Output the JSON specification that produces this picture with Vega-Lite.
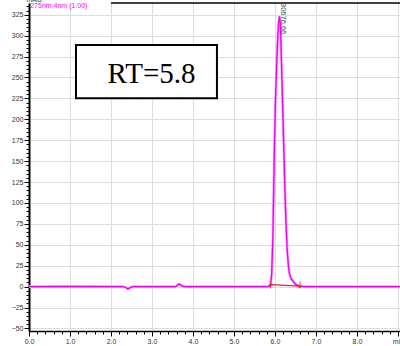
{
  "$schema": "https://vega.github.io/schema/vega-lite/v6.json",
  "autosize": "none",
  "width": 371,
  "height": 328,
  "padding": {"left": 29, "top": 3, "right": 0, "bottom": 15},
  "background": "white",
  "config": {"view": {"stroke": null}},
  "datasets": {
    "chrom": [
      {"t": 0.0, "v": 0}, {"t": 1.0, "v": 0.2}, {"t": 2.3, "v": 0}, {"t": 2.36, "v": -1}, {"t": 2.41, "v": -2.8},
      {"t": 2.46, "v": -1.4}, {"t": 2.52, "v": 0}, {"t": 3.58, "v": 0}, {"t": 3.62, "v": 1.6}, {"t": 3.66, "v": 3.2},
      {"t": 3.71, "v": 1.5}, {"t": 3.78, "v": 0}, {"t": 5.8, "v": 0}, {"t": 5.86, "v": 0.3}, {"t": 5.89, "v": 2},
      {"t": 5.92, "v": 15}, {"t": 5.95, "v": 60}, {"t": 5.98, "v": 150}, {"t": 6.01, "v": 220}, {"t": 6.04, "v": 265},
      {"t": 6.07, "v": 300}, {"t": 6.09, "v": 316}, {"t": 6.11, "v": 323}, {"t": 6.13, "v": 315}, {"t": 6.15, "v": 285},
      {"t": 6.18, "v": 230}, {"t": 6.21, "v": 175}, {"t": 6.24, "v": 120}, {"t": 6.27, "v": 75}, {"t": 6.3, "v": 42},
      {"t": 6.33, "v": 24}, {"t": 6.36, "v": 14}, {"t": 6.4, "v": 9}, {"t": 6.45, "v": 6}, {"t": 6.5, "v": 3},
      {"t": 6.55, "v": 1.5}, {"t": 6.6, "v": 0.5}, {"t": 6.7, "v": 0}, {"t": 9.05, "v": 0}
    ],
    "base": [{"t": 5.89, "v": 2.5}, {"t": 6.61, "v": 0.6}],
    "marks": [{"t": 5.89, "v": 1.5, "k": "start"}, {"t": 6.61, "v": 2.5, "k": "end"}],
    "box": [{"t": 1.146, "t2": 4.585, "v": 225.1, "v2": 288.9}],
    "rt": [{"t": 2.99, "v": 243, "label": "RT=5.8"}],
    "peak": [{"t": 6.19, "v": 339, "label": "30676.66"}],
    "chan": [{"t": 0.03, "v": 335, "label": "275nm,4nm (1.00)"}],
    "top": [{"t": 2.0, "t2": 9.05, "v": 339}]
  },
  "layer": [
    {
      "data": {"name": "chrom"},
      "mark": {"type": "line", "color": "#ff99ff", "strokeWidth": 2.6, "clip": true},
      "encoding": {
        "x": {
          "field": "t", "type": "quantitative",
          "scale": {"domain": [0, 9.05], "nice": false, "zero": false},
          "axis": {
            "title": null,
            "tickCount": 500,
            "values": [0,0.2,0.4,0.6,0.8,1,1.2,1.4,1.6,1.8,2,2.2,2.4,2.6,2.8,3,3.2,3.4,3.6,3.8,4,4.2,4.4,4.6,4.8,5,5.2,5.4,5.6,5.8,6,6.2,6.4,6.6,6.8,7,7.2,7.4,7.6,7.8,8,8.2,8.4,8.6,8.8,9],
            "labelExpr": "datum.value % 1 == 0 ? (datum.value == 9 ? 'min' : format(datum.value, '.1f')) : ''",
            "labelOverlap": false,
            "labelBound": false,
            "labelFlush": false,
            "labelFont": "Liberation Sans",
            "labelFontSize": 7,
            "labelColor": "#333",
            "labelPadding": 1,
            "tickSize": {"condition": {"test": "datum.value % 1 == 0", "value": 5}, "value": 3},
            "tickColor": "#000",
            "tickWidth": 1,
            "domainColor": "#000",
            "domainWidth": 1.5,
            "grid": true,
            "gridColor": "#dcdcdc",
            "gridWidth": 1,
            "gridOpacity": {"condition": {"test": "datum.value % 1 == 0 && datum.value > 0", "value": 1}, "value": 0}
          }
        },
        "y": {
          "field": "v", "type": "quantitative",
          "scale": {"domain": [-53, 339], "nice": false, "zero": false},
          "axis": {
            "title": "mAU",
            "titleAngle": 0,
            "titleAlign": "left",
            "titleBaseline": "bottom",
            "titleX": -3,
            "titleY": -1,
            "titleFont": "Liberation Sans",
            "titleFontSize": 7,
            "titleFontWeight": "normal",
            "titleColor": "#333",
            "tickCount": 500,
            "values": [-50,-45,-40,-35,-30,-25,-20,-15,-10,-5,0,5,10,15,20,25,30,35,40,45,50,55,60,65,70,75,80,85,90,95,100,105,110,115,120,125,130,135,140,145,150,155,160,165,170,175,180,185,190,195,200,205,210,215,220,225,230,235,240,245,250,255,260,265,270,275,280,285,290,295,300,305,310,315,320,325,330,335],
            "labelExpr": "datum.value % 25 == 0 ? format(datum.value, 'd') : ''",
            "labelOverlap": false,
            "labelBound": false,
            "labelFlush": false,
            "labelFont": "Liberation Sans",
            "labelFontSize": 7,
            "labelColor": "#333",
            "labelPadding": 1,
            "tickSize": {"condition": {"test": "datum.value % 25 == 0", "value": 5}, "value": 3},
            "tickColor": "#000",
            "tickWidth": 1,
            "domainColor": "#000",
            "domainWidth": 2,
            "grid": true,
            "gridColor": "#dcdcdc",
            "gridWidth": 1,
            "gridOpacity": {"condition": {"test": "datum.value % 25 == 0", "value": 1}, "value": 0}
          }
        }
      }
    },
    {
      "data": {"name": "chrom"},
      "mark": {"type": "line", "color": "#ee00ee", "strokeWidth": 1.3, "clip": true},
      "encoding": {"x": {"field": "t", "type": "quantitative"}, "y": {"field": "v", "type": "quantitative"}}
    },
    {
      "data": {"name": "base"},
      "mark": {"type": "line", "color": "#e8202a", "strokeWidth": 1.3},
      "encoding": {"x": {"field": "t", "type": "quantitative"}, "y": {"field": "v", "type": "quantitative"}}
    },
    {
      "data": {"name": "marks"},
      "mark": {"type": "point", "color": "#e8202a", "filled": false, "strokeWidth": 1.3, "size": 40},
      "encoding": {
        "x": {"field": "t", "type": "quantitative"},
        "y": {"field": "v", "type": "quantitative"},
        "shape": {
          "field": "k", "type": "nominal", "legend": null,
          "scale": {"domain": ["start", "end"], "range": ["M-0.7,0H0.7M0,-1V1", "M0,-1V1M-0.6,0.3L0,1L0.6,0.3"]}
        }
      }
    },
    {
      "data": {"name": "top"},
      "mark": {"type": "rule", "color": "#000", "strokeWidth": 1.5},
      "encoding": {"x": {"field": "t", "type": "quantitative"}, "x2": {"field": "t2"}, "y": {"field": "v", "type": "quantitative"}}
    },
    {
      "data": {"name": "box"},
      "mark": {"type": "rect", "fill": "white", "stroke": "#000", "strokeWidth": 2},
      "encoding": {
        "x": {"field": "t", "type": "quantitative"}, "x2": {"field": "t2"},
        "y": {"field": "v", "type": "quantitative"}, "y2": {"field": "v2"}
      }
    },
    {
      "data": {"name": "rt"},
      "mark": {"type": "text", "font": "Liberation Serif", "fontSize": 29, "align": "center", "baseline": "alphabetic", "color": "#000"},
      "encoding": {"x": {"field": "t", "type": "quantitative"}, "y": {"field": "v", "type": "quantitative"}, "text": {"field": "label"}}
    },
    {
      "data": {"name": "peak"},
      "mark": {"type": "text", "font": "Liberation Sans", "fontSize": 7.5, "angle": 90, "align": "left", "baseline": "middle", "color": "#444"},
      "encoding": {"x": {"field": "t", "type": "quantitative"}, "y": {"field": "v", "type": "quantitative"}, "text": {"field": "label"}}
    },
    {
      "data": {"name": "chan"},
      "mark": {"type": "text", "font": "Liberation Sans", "fontSize": 7, "align": "left", "baseline": "middle", "color": "#ff00ff"},
      "encoding": {"x": {"field": "t", "type": "quantitative"}, "y": {"field": "v", "type": "quantitative"}, "text": {"field": "label"}}
    }
  ]
}
